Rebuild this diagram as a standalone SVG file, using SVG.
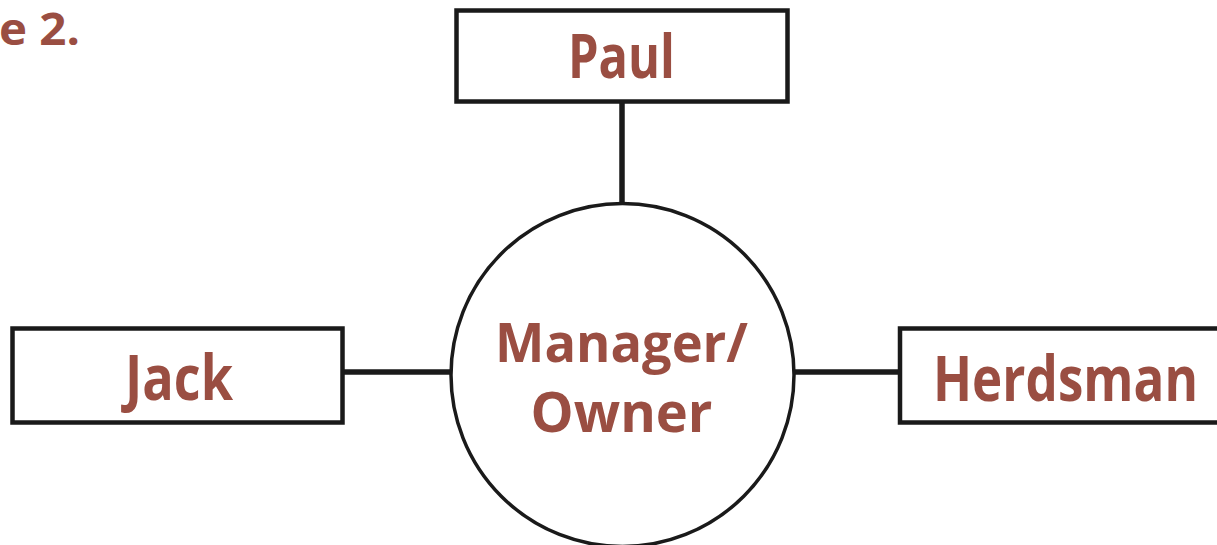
<svg xmlns="http://www.w3.org/2000/svg" width="1217" height="545" viewBox="0 0 1217 545">
<style>
.box{fill:#fff;stroke:#1a1a1a;stroke-width:4.5}
.circ{fill:#fff;stroke:#1a1a1a;stroke-width:3.5}
.lbl{font-family:"Open Sans","Noto Sans",sans-serif;font-weight:700;fill:#9a4e42;text-anchor:middle}
.conn{stroke:#1a1a1a;stroke-width:5.5;fill:none}
</style>
<rect width="1217" height="545" fill="#fff"/>
<text x="-1" y="45" class="lbl" style="text-anchor:start;font-size:44px" textLength="81" lengthAdjust="spacingAndGlyphs">e 2.</text>
<g id="connectors">
<line class="conn" x1="622" y1="98" x2="622" y2="205"/>
<line class="conn" x1="337" y1="372" x2="451" y2="372"/>
<line class="conn" x1="794" y1="372" x2="901" y2="372"/>
</g>
<g id="paul">
<rect class="box" x="456.5" y="10.5" width="331" height="91"/>
<text class="lbl" x="621.5" y="78" style="font-size:60px" textLength="107" lengthAdjust="spacingAndGlyphs">Paul</text>
</g>
<g id="manager">
<circle class="circ" cx="622.5" cy="375" r="171.5"/>
<text class="lbl" x="621.5" y="362" style="font-size:54px" textLength="253" lengthAdjust="spacingAndGlyphs">Manager/</text>
<text class="lbl" x="621.5" y="432" style="font-size:56px" textLength="182" lengthAdjust="spacingAndGlyphs">Owner</text>
</g>
<g id="jack">
<rect class="box" x="12.5" y="328.5" width="330" height="94"/>
<text class="lbl" x="179" y="400" style="font-size:62px" textLength="108" lengthAdjust="spacingAndGlyphs">Jack</text>
</g>
<g id="herdsman">
<rect class="box" x="900" y="328.5" width="330" height="94"/>
<text class="lbl" x="1065.5" y="401" style="font-size:62px" textLength="265" lengthAdjust="spacingAndGlyphs">Herdsman</text>
</g>
</svg>
